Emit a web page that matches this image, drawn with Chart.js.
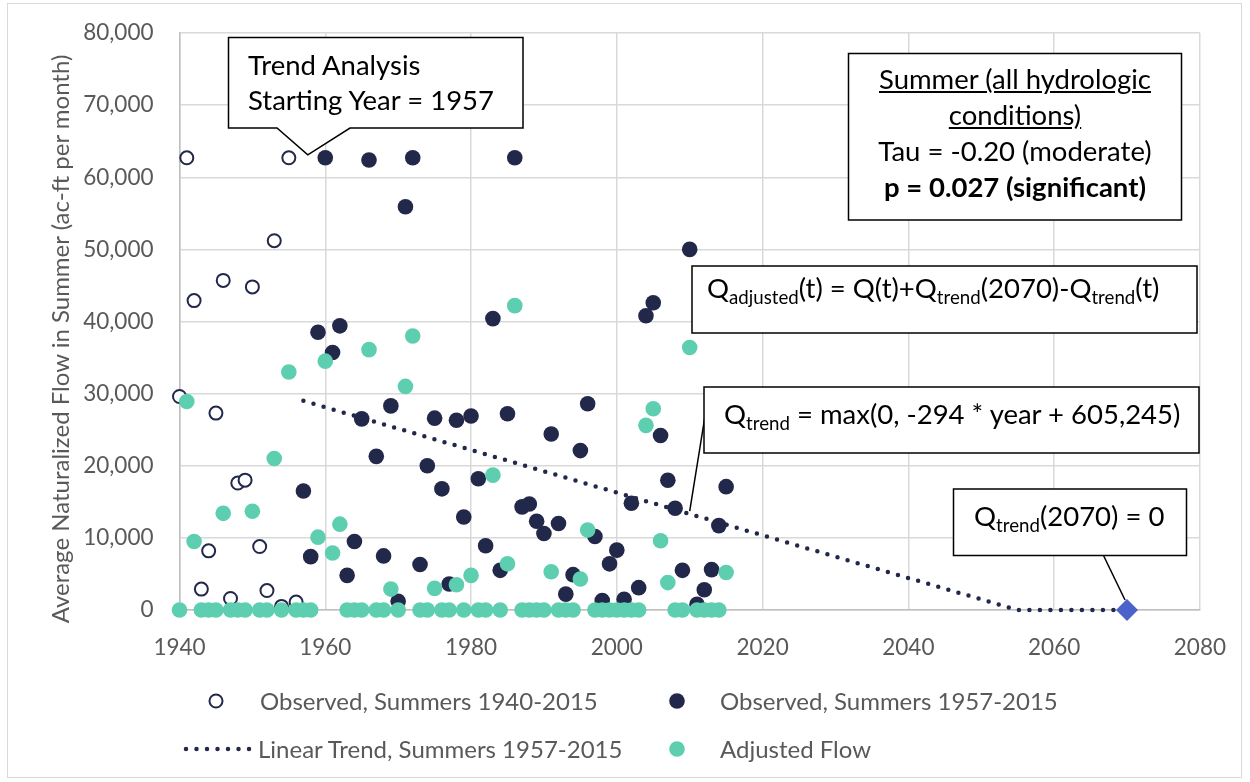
<!DOCTYPE html>
<html>
<head>
<meta charset="utf-8">
<script src="https://cdn.jsdelivr.net/npm/chart.js@4.4.1/dist/chart.umd.min.js"></script>
<style>
html,body{margin:0;padding:0;background:#fff;}
#wrap{position:relative;width:1250px;height:782px;overflow:hidden;font-family:Lato,'Open Sans',sans-serif;}
#frame{position:absolute;left:7px;top:3px;width:1235px;height:775px;border:1px solid #d9d9d9;box-sizing:border-box;}
canvas{position:absolute;left:0;top:0;}
svg#ov{position:absolute;left:0;top:0;}
.t{position:absolute;white-space:nowrap;color:#000;font-size:27.5px;line-height:35px;}
.t sub{font-size:0.68em;vertical-align:-0.3em;line-height:0;}
.lg{position:absolute;white-space:nowrap;color:#595959;font-size:24px;line-height:30px;}
#ytitle{position:absolute;left:60px;top:339px;white-space:nowrap;color:#595959;font-size:24px;line-height:30px;transform:translate(-50%,-50%) rotate(-90deg);}
</style>
</head>
<body>
<div id="wrap">
  <div id="frame"></div>
  <canvas id="c" width="1250" height="782"></canvas>
  <svg id="ov" width="1250" height="782"></svg>
  <div id="ytitle">Average Naturalized Flow in Summer (ac-ft per month)</div>
  <div class="t" style="left:248px;top:47px">Trend Analysis<br>Starting Year = 1957</div>
  <div class="t" style="left:848px;top:61px;width:334px;text-align:center;line-height:36px"><u>Summer (all hydrologic</u><br><u>conditions)</u><br>Tau = -0.20 (moderate)<br><b>p = 0.027 (significant)</b></div>
  <div class="t" style="left:707px;top:270px">Q<sub>adjusted</sub>(t) = Q(t)+Q<sub>trend</sub>(2070)-Q<sub>trend</sub>(t)</div>
  <div class="t" style="left:724px;top:396px">Q<sub>trend</sub> = max(0, -294 * year + 605,245)</div>
  <div class="t" style="left:974px;top:498px">Q<sub>trend</sub>(2070) = 0</div>
  <div class="lg" style="left:260px;top:686px">Observed, Summers 1940-2015</div>
  <div class="lg" style="left:720px;top:686px">Observed, Summers 1957-2015</div>
  <div class="lg" style="left:258px;top:734px">Linear Trend, Summers 1957-2015</div>
  <div class="lg" style="left:720px;top:734px">Adjusted Flow</div>
</div>
<script>
// ---------------- data ----------------
const yearsEarly = [1940,1941,1942,1943,1944,1945,1946,1947,1948,1949,1950,1951,1952,1953,1954,1955,1956];
const observedEarly = [29600,62700,42900,2900,8200,27300,45700,1600,17600,18000,44800,8800,2700,51200,500,62700,1100];

const yearsLate = [1957,1958,1959,1960,1961,1962,1963,1964,1965,1966,1967,1968,1969,1970,1971,1972,1973,1974,1975,1976,
  1977,1978,1979,1980,1981,1982,1983,1984,1985,1986,1987,1988,1989,1990,1991,1992,1993,1994,1995,1996,
  1997,1998,1999,2000,2001,2002,2003,2004,2005,2006,2007,2008,2009,2010,2011,2012,2013,2014,2015];
const observedLate = [16500,7400,38500,62700,35700,39400,4800,9500,26500,62400,21300,7500,28300,1200,55900,62700,6300,20000,26600,16800,
  3600,26300,12900,26900,18200,8900,40400,5500,27200,62700,14300,14700,12300,10600,24400,12000,2200,4900,22100,28600,
  10200,1300,6400,8300,1500,14800,3100,40800,42600,24200,18000,14100,5500,50000,800,2800,5600,11700,17100];

const yearsAll = [1940,1941,1942,1943,1944,1945,1946,1947,1948,1949,1950,1951,1952,1953,1954,1955,1956,
  1957,1958,1959,1960,1961,1962,1963,1964,1965,1966,1967,1968,1969,1970,1971,1972,1973,1974,1975,1976,
  1977,1978,1979,1980,1981,1982,1983,1984,1985,1986,1987,1988,1989,1990,1991,1992,1993,1994,1995,1996,
  1997,1998,1999,2000,2001,2002,2003,2004,2005,2006,2007,2008,2009,2010,2011,2012,2013,2014,2015];
const adjustedFlow = [0,28900,9500,0,0,0,13400,0,0,0,13700,0,0,21000,0,33000,0,
  0,0,10100,34500,7900,11900,0,0,0,36100,0,0,2900,0,31000,38000,0,0,3000,0,
  0,3500,0,4800,0,0,18700,0,6400,42200,0,0,0,0,5300,0,0,0,4300,11100,
  0,0,0,0,0,0,0,25600,27900,9600,3800,0,0,36400,0,0,0,0,5200];

const trendYears = [1957, 2055, 2070];
const trendValues = [29000, 0, 0];

const targetYears = [2070];
const targetValues = [0];

const xTicks = [1940,1960,1980,2000,2020,2040,2060,2080];
const yTicks = [0,10000,20000,30000,40000,50000,60000,70000,80000];

// ---------------- style ----------------
const NAVY = '#22284a', TEAL = '#5dcfb0', DIAMOND = '#4a62c9';
const GRID = '#d9d9d9', AXIS = '#bfbfbf', LABEL = '#595959';
const pts = (xs, ys) => xs.map((x, i) => ({x: x, y: ys[i]}));

Chart.defaults.font.family = "Lato, 'Open Sans', sans-serif";

const chart = new Chart(document.getElementById('c'), {
  type: 'scatter',
  data: {
    datasets: [
      {label: 'Qtrend(2070)', data: pts(targetYears, targetValues), pointStyle: 'rectRot', pointRadius: 11,
        backgroundColor: DIAMOND, borderWidth: 0, clip: false},
      {label: 'Adjusted Flow', data: pts(yearsAll, adjustedFlow), pointRadius: 7.8,
        backgroundColor: TEAL, borderWidth: 0, clip: false},
      {label: 'Linear Trend, Summers 1957-2015', data: pts(trendYears, trendValues), showLine: true,
        borderColor: NAVY, borderWidth: 4.5, borderDash: [0, 10.5], borderCapStyle: 'round',
        pointRadius: 0, fill: false, tension: 0, clip: false},
      {label: 'Observed, Summers 1957-2015', data: pts(yearsLate, observedLate), pointRadius: 7.8,
        backgroundColor: NAVY, borderWidth: 0, clip: false},
      {label: 'Observed, Summers 1940-2015', data: pts(yearsEarly, observedEarly), pointRadius: 6.5,
        backgroundColor: '#ffffff', borderColor: NAVY, borderWidth: 2, clip: false}
    ]
  },
  options: {
    responsive: false, animation: false, devicePixelRatio: 1, events: [],
    layout: {padding: {left: 0, right: 49, top: 33, bottom: 0}},
    plugins: {legend: {display: false}, tooltip: {enabled: false}},
    scales: {
      x: {
        type: 'linear', min: 1940, max: 2080,
        afterBuildTicks: s => { s.ticks = xTicks.map(v => ({value: v})); },
        afterFit: s => { s.height = 172; },
        grid: {color: GRID, lineWidth: 1.5, drawTicks: false},
        border: {color: AXIS, width: 1.5},
        ticks: {color: LABEL, font: {size: 22.5}, padding: 24, callback: v => String(v), maxRotation: 0}
      },
      y: {
        min: 0, max: 80000,
        afterBuildTicks: s => { s.ticks = yTicks.map(v => ({value: v})); },
        afterFit: s => { s.width = 179.5; s.paddingTop = 0; s.paddingBottom = 0; },
        grid: {color: GRID, lineWidth: 1.5, drawTicks: false},
        border: {color: AXIS, width: 1.5},
        ticks: {color: LABEL, font: {size: 22.5}, padding: 26, callback: v => v.toLocaleString('en-US')}
      }
    }
  }
});

// ---------------- annotation shapes (SVG overlay) ----------------
const X = v => chart.scales.x.getPixelForValue(v);
const Y = v => chart.scales.y.getPixelForValue(v);
const svg = document.getElementById('ov');
const NS = 'http://www.w3.org/2000/svg';
function add(tag, attrs) {
  const e = document.createElementNS(NS, tag);
  for (const k in attrs) e.setAttribute(k, attrs[k]);
  svg.appendChild(e);
  return e;
}
const box = {fill: '#ffffff', stroke: '#000000', 'stroke-width': 1.5};
// connectors
add('line', {x1: 705.5, y1: 413, x2: X(2010), y2: Y(13700), stroke: '#000', 'stroke-width': 1.5});
add('line', {x1: 1103.5, y1: 555.5, x2: X(2070) - 2, y2: Y(0) - 10, stroke: '#000', 'stroke-width': 1.5});
// callout with tail
const tipX = X(1957.6), tipY = Y(63100);
add('path', Object.assign({d: `M228.5,37.5 H523 V128 H350 L${tipX},${tipY} L277,128 H228.5 Z`}, box));
add('rect', Object.assign({x: 848.5, y: 53.5, width: 333, height: 166.5}, box));
add('rect', Object.assign({x: 692, y: 266, width: 505, height: 67}, box));
add('rect', Object.assign({x: 704, y: 387, width: 495, height: 66}, box));
add('rect', Object.assign({x: 953.5, y: 489, width: 233, height: 66.5}, box));
// legend markers
add('circle', {cx: 216, cy: 701, r: 6.5, fill: '#fff', stroke: NAVY, 'stroke-width': 2});
add('circle', {cx: 677, cy: 701, r: 7.8, fill: NAVY});
add('line', {x1: 186, y1: 749, x2: 250, y2: 749, stroke: NAVY, 'stroke-width': 4.5, 'stroke-dasharray': '0 10.5', 'stroke-linecap': 'round'});
add('circle', {cx: 677, cy: 749, r: 7.8, fill: TEAL});
</script>
</body>
</html>
